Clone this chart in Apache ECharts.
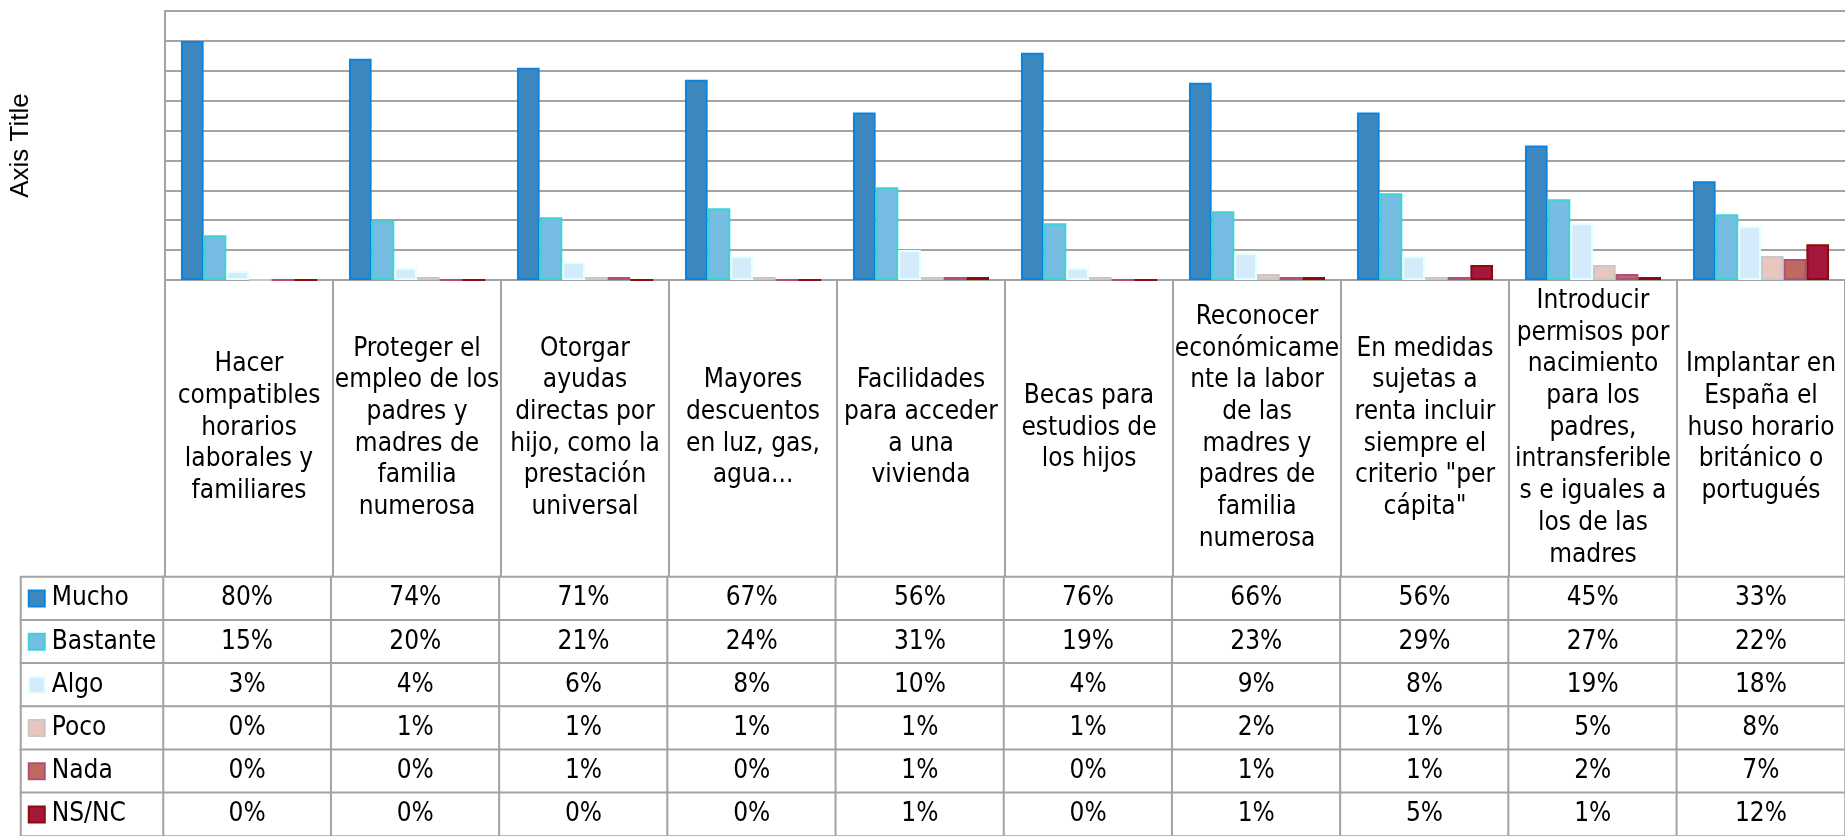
<!DOCTYPE html>
<html>
<head>
<meta charset="utf-8">
<script src="https://cdn.jsdelivr.net/npm/echarts@6/dist/echarts.min.js"></script>
<style>
  html, body { margin: 0; padding: 0; background: #fff; }
  #chart { width: 1845px; height: 836px; }
</style>
</head>
<body>
<div id="chart"></div>
<script>
// category labels, wrapped the same way as the original sheet
const categories = [
  'Hacer\ncompatibles\nhorarios\nlaborales y\nfamiliares',
  'Proteger el\nempleo de los\npadres y\nmadres de\nfamilia\nnumerosa',
  'Otorgar\nayudas\ndirectas por\nhijo, como la\nprestación\nuniversal',
  'Mayores\ndescuentos\nen luz, gas,\nagua...',
  'Facilidades\npara acceder\na una\nvivienda',
  'Becas para\nestudios de\nlos hijos',
  'Reconocer\neconómicame\nnte la labor\nde las\nmadres y\npadres de\nfamilia\nnumerosa',
  'En medidas\nsujetas a\nrenta incluir\nsiempre el\ncriterio "per\ncápita"',
  'Introducir\npermisos por\nnacimiento\npara los\npadres,\nintransferible\ns e iguales a\nlos de las\nmadres',
  'Implantar en\nEspaña el\nhuso horario\nbritánico o\nportugués'
];

const seriesNames = ['Mucho', 'Bastante', 'Algo', 'Poco', 'Nada', 'NS/NC'];

const mucho = [80, 74, 71, 67, 56, 76, 66, 56, 45, 33];
const bastante = [15, 20, 21, 24, 31, 19, 23, 29, 27, 22];
const algo = [3, 4, 6, 8, 10, 4, 9, 8, 19, 18];
const poco = [0, 1, 1, 1, 1, 1, 2, 1, 5, 8];
const nada = [0, 0, 1, 0, 1, 0, 1, 1, 2, 7];
const nsnc = [0, 0, 0, 0, 1, 0, 1, 5, 1, 12];

const seriesValues = [mucho, bastante, algo, poco, nada, nsnc];

const fills = ['#3D88BF', '#76BDE3', '#D3EBFB', '#E8C6BD', '#BE6A5F', '#A4183D'];
const borders = ['#0A84E0', '#3ED3D3', '#E3FFFF', '#C8C8C8', '#B0507A', '#8F0A0A'];

const LINE = '#A3A3A3';
const FONT = "'DejaVu Sans Condensed', 'DejaVu Sans', sans-serif";

const chart = echarts.init(document.getElementById('chart'));

// table cells: [column, row, value]
const tableCells = [];
seriesValues.forEach((vals, row) => {
  vals.forEach((v, col) => tableCells.push([col, row, v]));
});
const legendCells = seriesNames.map((n, row) => [0, row, 0]);

const legendRich = {};
seriesNames.forEach((n, i) => {
  legendRich['b' + i] = {
    width: 14,
    height: 14,
    backgroundColor: fills[i],
    borderColor: borders[i],
    borderWidth: 2
  };
});
legendRich.t = { fontSize: 26, fontFamily: FONT, color: '#000', padding: [0, 0, 0, 8] };

const barSeries = seriesNames.map((name, i) => ({
  name,
  type: 'bar',
  xAxisIndex: 0,
  yAxisIndex: 0,
  data: seriesValues[i],
  barGap: '0%',
  barCategoryGap: '19%',
  itemStyle: { color: fills[i], borderColor: borders[i], borderWidth: 2 },
  emphasis: { disabled: true },
  silent: true
}));

const option = {
  animation: false,
  grid: [
    { left: 163, top: 11, width: 1688, height: 269 },
    { left: 163, top: 577, width: 1688, height: 265 },
    { left: 21, top: 577, width: 142, height: 265 }
  ],
  xAxis: [
    {
      gridIndex: 0,
      type: 'category',
      data: categories,
      axisLine: { lineStyle: { color: LINE, width: 2 } },
      axisTick: { show: true, length: 297, lineStyle: { color: LINE, width: 2 } },
      axisLabel: {
        interval: 0,
        margin: 148,
        verticalAlign: 'middle',
        fontSize: 26,
        lineHeight: 31.7,
        fontFamily: FONT,
        color: '#000'
      }
    },
    { gridIndex: 1, type: 'category', data: categories, show: false },
    { gridIndex: 2, type: 'category', data: [''], show: false }
  ],
  yAxis: [
    {
      gridIndex: 0,
      type: 'value',
      min: 0,
      max: 90,
      interval: 10,
      name: 'Axis Title',
      nameLocation: 'middle',
      nameGap: 131,
      nameTextStyle: { fontSize: 26, fontFamily: "'Liberation Sans', Arial, sans-serif", color: '#000' },
      axisLine: { show: true, lineStyle: { color: LINE, width: 2 } },
      axisTick: { show: false },
      axisLabel: { show: false },
      splitLine: { lineStyle: { color: LINE, width: 2 } }
    },
    { gridIndex: 1, type: 'category', data: seriesNames, inverse: true, show: false },
    { gridIndex: 2, type: 'category', data: seriesNames, inverse: true, show: false }
  ],
  series: [
    ...barSeries,
    {
      type: 'heatmap',
      xAxisIndex: 1,
      yAxisIndex: 1,
      data: tableCells,
      itemStyle: { color: '#fff', borderColor: LINE, borderWidth: 2 },
      label: {
        show: true,
        fontSize: 26,
        fontFamily: FONT,
        color: '#000',
        formatter: p => p.value[2] + '%'
      },
      emphasis: { disabled: true },
      silent: true
    },
    {
      type: 'heatmap',
      xAxisIndex: 2,
      yAxisIndex: 2,
      data: legendCells,
      itemStyle: { color: '#fff', borderColor: LINE, borderWidth: 2 },
      label: {
        show: true,
        position: 'insideLeft',
        distance: 10,
        formatter: p => '{b' + p.value[1] + '|}{t|' + seriesNames[p.value[1]] + '}',
        rich: legendRich
      },
      emphasis: { disabled: true },
      silent: true
    }
  ]
};

chart.setOption(option);
</script>
</body>
</html>
